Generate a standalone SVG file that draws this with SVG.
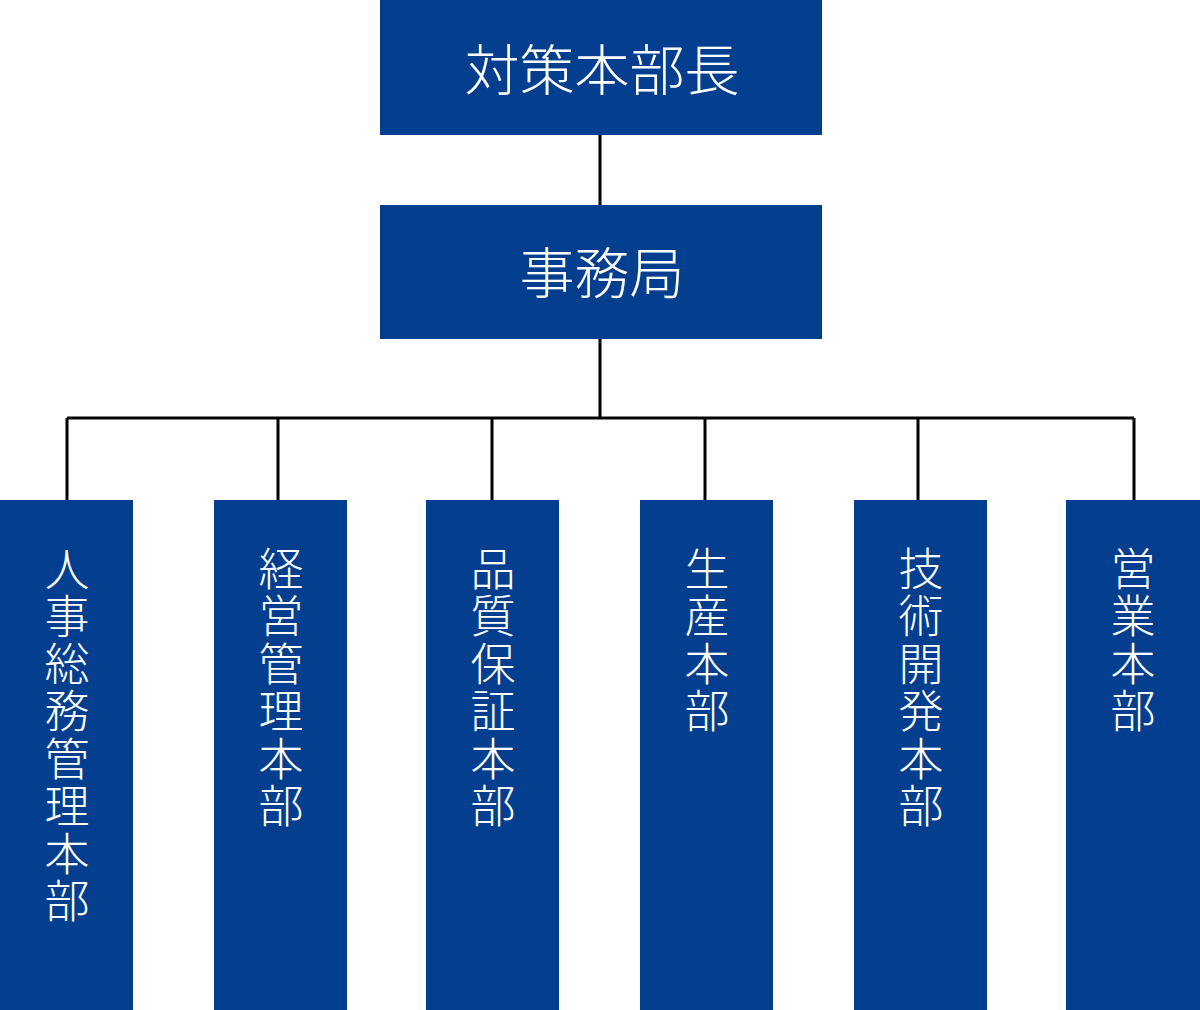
<svg xmlns="http://www.w3.org/2000/svg" width="1200" height="1010" viewBox="0 0 1200 1010">
<style>
.box{fill:#043f8f}
.t{fill:#ffffff;font-family:"Noto Sans CJK JP","Noto Sans CJK SC",sans-serif;font-weight:300}
.h{font-size:55px;text-anchor:middle}
.v{font-size:45px;writing-mode:vertical-rl;letter-spacing:2.5px}
.c{fill:none;stroke:#000;stroke-width:3}
</style>
<rect width="1200" height="1010" fill="#ffffff"/>
<g id="connectors">
<path class="c" d="M600 135V205M600 339V418M67 418H1134M67 418V500M278 418V500M492 418V500M705 418V500M918 418V500M1134 418V500"/>
</g>
<g id="n-chief"><rect class="box" x="380" y="0" width="442" height="135"/><text class="t h" x="602" y="90">対策本部長</text></g>
<g id="n-office"><rect class="box" x="380" y="205" width="442" height="134"/><text class="t h" x="602" y="293">事務局</text></g>
<g id="n-hr"><rect class="box" x="0" y="500" width="133" height="510"/><text class="t v" x="67" y="546">人事総務管理本部</text></g>
<g id="n-mgmt"><rect class="box" x="214" y="500" width="133" height="510"/><text class="t v" x="281" y="546">経営管理本部</text></g>
<g id="n-qa"><rect class="box" x="426" y="500" width="133" height="510"/><text class="t v" x="493" y="546">品質保証本部</text></g>
<g id="n-prod"><rect class="box" x="640" y="500" width="133" height="510"/><text class="t v" x="707" y="546">生産本部</text></g>
<g id="n-tech"><rect class="box" x="854" y="500" width="133" height="510"/><text class="t v" x="921" y="546">技術開発本部</text></g>
<g id="n-sales"><rect class="box" x="1066" y="500" width="134" height="510"/><text class="t v" x="1133" y="546">営業本部</text></g>
</svg>
